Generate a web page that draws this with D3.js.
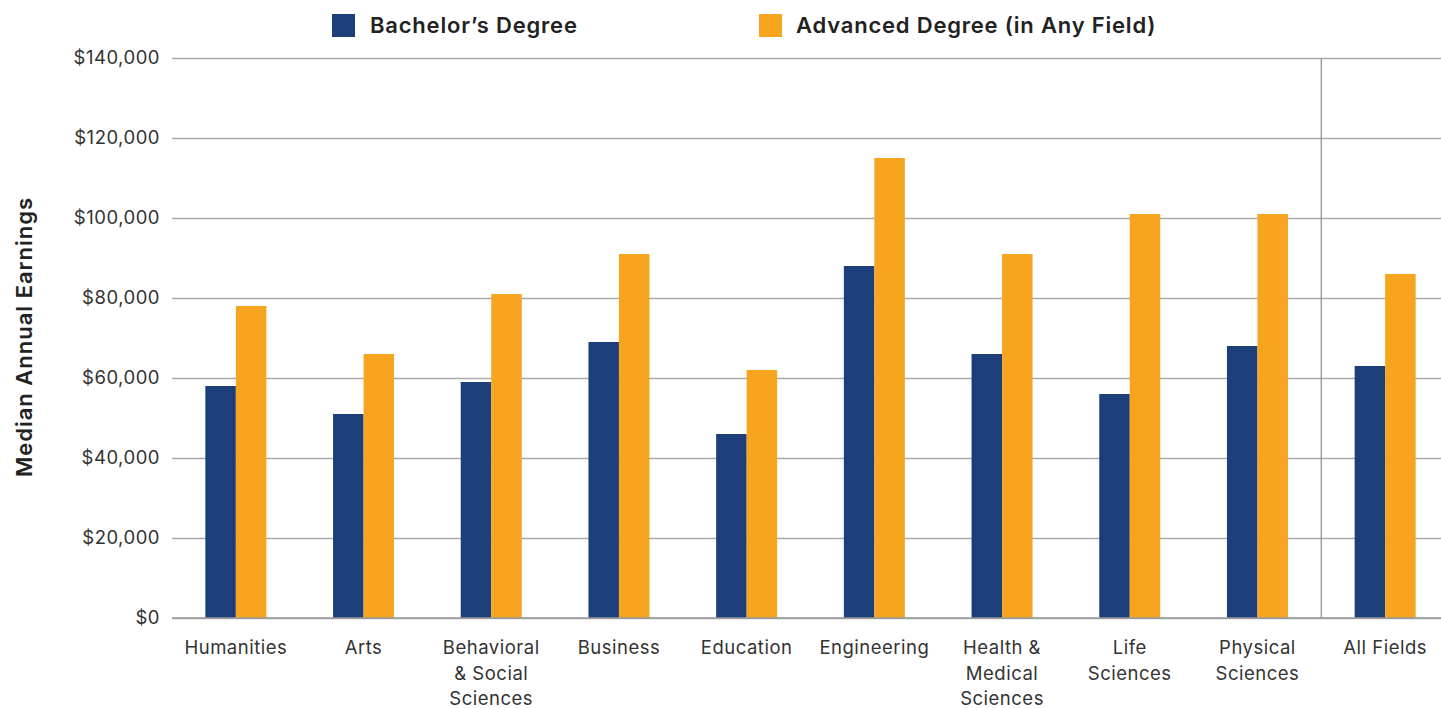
<!DOCTYPE html>
<html><head><meta charset="utf-8">
<script src="https://cdn.jsdelivr.net/npm/d3@7"></script>
<style>body{margin:0;background:#fff;} text{font-family:Inter, "Noto Sans", sans-serif;}</style>
</head><body>
<svg id="c" width="1441" height="708"></svg>
<script>
const categories = [["Humanities"],["Arts"],["Behavioral","& Social","Sciences"],["Business"],["Education"],["Engineering"],["Health &","Medical","Sciences"],["Life","Sciences"],["Physical","Sciences"],["All Fields"]];
const bachelors = [58000,51000,59000,69000,46000,88000,66000,56000,68000,63000];
const advanced = [78000,66000,81000,91000,62000,115000,91000,101000,101000,86000];
const seriesNames = ["Bachelor\u2019s Degree","Advanced Degree (in Any Field)"];
const yTicks = [0,20000,40000,60000,80000,100000,120000,140000];
const colors = ["#1c3f7a","#f7a41f"];

const svg = d3.select("#c");
const L = 172, R = 1449, T = 58, B = 618;
const keys = categories.map(c=>c.join(" "));
const x = d3.scaleBand().domain(keys).range([L,R]).paddingInner(0).paddingOuter(0);
const y = d3.scaleLinear().domain([0,140000]).range([B,T]);
const bw = 30.5;

// grid
const yAxis = d3.axisLeft(y).tickValues(yTicks).tickSize(-(1441-L)).tickPadding(12)
  .tickFormat(d=>"$"+d3.format(",")(d));
const ga = svg.append("g").attr("transform",`translate(${L},0)`).call(yAxis);
ga.select(".domain").remove();
ga.selectAll(".tick line").attr("stroke","#aaaaab").attr("stroke-width",1.5);
ga.selectAll(".tick text").attr("font-size",18.5).attr("letter-spacing",0.5).attr("fill","#333").attr("x",-12);

// divider
svg.append("line").attr("x1",x(keys[9])).attr("x2",x(keys[9])).attr("y1",T).attr("y2",B)
  .attr("stroke","#a0a0a3").attr("stroke-width",1.5);

// bars
const g = svg.append("g");
keys.forEach((k,i)=>{
  const c = x(k)+x.bandwidth()/2;
  g.append("rect").attr("x",c-bw).attr("width",bw).attr("y",y(bachelors[i])).attr("height",B-y(bachelors[i])).attr("fill",colors[0]);
  g.append("rect").attr("x",c).attr("width",bw).attr("y",y(advanced[i])).attr("height",B-y(advanced[i])).attr("fill",colors[1]);
});
// baseline
svg.append("line").attr("x1",L).attr("x2",1441).attr("y1",B).attr("y2",B).attr("stroke","#999").attr("stroke-width",1.5);

// x labels
categories.forEach((lines,i)=>{
  const cx = x(keys[i])+x.bandwidth()/2;
  const t = svg.append("text").attr("text-anchor","middle").attr("font-size",18.5).attr("letter-spacing",0.5).attr("fill","#333")
    .attr("x",cx).attr("y",654);
  lines.forEach((ln,j)=>t.append("tspan").attr("x",cx).attr("dy",j?25.5:0).text(ln));
});

// y title
svg.append("text").attr("transform","translate(32,337) rotate(-90)").attr("text-anchor","middle")
  .attr("font-size",22).attr("letter-spacing",1.0).attr("font-weight",600).attr("fill","#222").text("Median Annual Earnings");

// legend
const lg = [[332,370],[759,796]];
seriesNames.forEach((n,i)=>{
  svg.append("rect").attr("x",lg[i][0]).attr("y",14).attr("width",23).attr("height",23).attr("fill",colors[i]);
  svg.append("text").attr("x",lg[i][1]).attr("y",33).attr("font-size",22).attr("letter-spacing",0.8).attr("font-weight",600).attr("fill","#222").text(n);
});
</script>
</body></html>
